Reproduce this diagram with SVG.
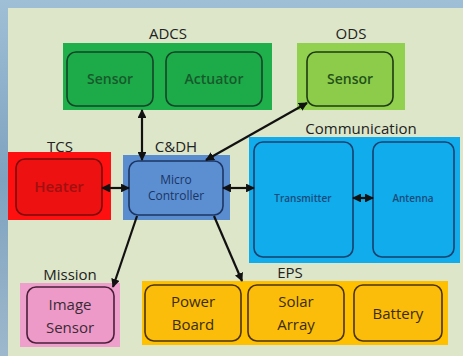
<svg xmlns="http://www.w3.org/2000/svg" width="463" height="356" viewBox="0 0 463 356">
<defs>
<linearGradient id="bg" x1="0" y1="0" x2="0" y2="1">
<stop offset="0" stop-color="#9fbfd6"/>
<stop offset="0.5" stop-color="#7fa2bf"/>
<stop offset="1" stop-color="#9db8cc"/>
</linearGradient>
<marker id="ah" viewBox="0 0 10 10" refX="9" refY="5" markerWidth="4" markerHeight="4" orient="auto-start-reverse">
<path d="M0,0 L10,5 L0,10 z" fill="#111"/>
</marker>
</defs>
<style>
.lbl{font-family:"Open Sans","Liberation Sans",sans-serif;font-size:15px;fill:#222;text-anchor:middle}
.t{font-family:"Open Sans","Liberation Sans",sans-serif;text-anchor:middle;font-weight:600}
.n{font-weight:normal}
.in{stroke-width:1.6;rx:9}
.c{stroke:#111;stroke-width:2.2;fill:none}
</style>
<rect width="463" height="356" fill="url(#bg)"/>
<rect x="8" y="8" width="455" height="348" fill="#dde6c9"/>

<g id="adcs">
<text class="lbl" x="168" y="39">ADCS</text>
<rect x="63" y="43" width="209" height="67" fill="#1fb04b"/>
<rect class="in" x="67" y="52" width="86" height="54" fill="#1cab48" stroke="#14432a"/>
<text class="t" x="110" y="84" font-size="14" fill="#185a2c">Sensor</text>
<rect class="in" x="166" y="52" width="96" height="54" fill="#1cab48" stroke="#14432a"/>
<text class="t" x="214" y="84" font-size="14" fill="#185a2c">Actuator</text>
</g>

<g id="ods">
<text class="lbl" x="351" y="39">ODS</text>
<rect x="297" y="43" width="108" height="67" fill="#92d050"/>
<rect class="in" x="307" y="52" width="86" height="54" fill="#8ccc4a" stroke="#1f3a12"/>
<text class="t" x="350" y="84" font-size="14" fill="#24521a">Sensor</text>
</g>

<g id="tcs">
<text class="lbl" x="60" y="152">TCS</text>
<rect x="8" y="152" width="103" height="68" fill="#ff1010"/>
<rect class="in" x="16" y="159" width="86" height="56" fill="#ee1111" stroke="#7a0a0a"/>
<text class="t" x="59" y="192" font-size="15" font-weight="bold" fill="#a01010">Heater</text>
</g>

<g id="cdh">
<text class="lbl" x="176" y="152">C&amp;DH</text>
<rect x="123" y="155" width="107" height="65" fill="#5a8dd0"/>
<rect class="in" x="129" y="161" width="94" height="54" fill="#5b8fd2" stroke="#1c3563"/>
<text class="t n" x="176" y="184" font-size="12" fill="#1c3563">Micro</text>
<text class="t n" x="176" y="200" font-size="12" fill="#1c3563">Controller</text>
</g>

<g id="communication">
<text class="lbl" x="361" y="134">Communication</text>
<rect x="249" y="137" width="211" height="126" fill="#10acec"/>
<rect class="in" x="254" y="142" width="99" height="115" fill="#10acec" stroke="#16406e"/>
<text class="t" x="303" y="202" font-size="10" fill="#1c4a7a">Transmitter</text>
<rect class="in" x="373" y="142" width="81" height="115" fill="#10acec" stroke="#16406e"/>
<text class="t" x="413" y="202" font-size="10" fill="#1c4a7a">Antenna</text>
</g>

<g id="mission">
<text class="lbl" x="70" y="280">Mission</text>
<rect x="20" y="283" width="100" height="64" fill="#ef9fcb"/>
<rect class="in" x="27" y="287" width="87" height="56" fill="#ee9ac8" stroke="#4a1f3a"/>
<text class="t n" x="70" y="310" font-size="15" fill="#3a2a36">Image</text>
<text class="t n" x="70" y="333" font-size="15" fill="#3a2a36">Sensor</text>
</g>

<g id="eps">
<text class="lbl" x="290" y="278">EPS</text>
<rect x="142" y="281" width="306" height="64" fill="#ffc000"/>
<rect class="in" x="145" y="285" width="96" height="56" fill="#fbbd0a" stroke="#4a3410"/>
<text class="t n" x="193" y="307" font-size="15" fill="#3a2c10">Power</text>
<text class="t n" x="193" y="330" font-size="15" fill="#3a2c10">Board</text>
<rect class="in" x="248" y="285" width="96" height="56" fill="#fbbd0a" stroke="#4a3410"/>
<text class="t n" x="296" y="307" font-size="15" fill="#3a2c10">Solar</text>
<text class="t n" x="296" y="330" font-size="15" fill="#3a2c10">Array</text>
<rect class="in" x="354" y="285" width="88" height="56" fill="#fbbd0a" stroke="#4a3410"/>
<text class="t n" x="398" y="319" font-size="15" fill="#3a2c10">Battery</text>
</g>

<g id="connectors">
<line class="c" x1="142" y1="110" x2="142" y2="160" marker-start="url(#ah)" marker-end="url(#ah)"/>
<line class="c" x1="206" y1="160" x2="307" y2="103" marker-start="url(#ah)" marker-end="url(#ah)"/>
<line class="c" x1="102" y1="188" x2="129" y2="188" marker-start="url(#ah)" marker-end="url(#ah)"/>
<line class="c" x1="223" y1="188" x2="254" y2="188" marker-start="url(#ah)" marker-end="url(#ah)"/>
<line class="c" x1="353" y1="198" x2="373" y2="198" marker-start="url(#ah)" marker-end="url(#ah)"/>
<line class="c" x1="137" y1="216" x2="113" y2="287" marker-end="url(#ah)"/>
<line class="c" x1="214" y1="216" x2="242" y2="281" marker-end="url(#ah)"/>
</g>
</svg>
